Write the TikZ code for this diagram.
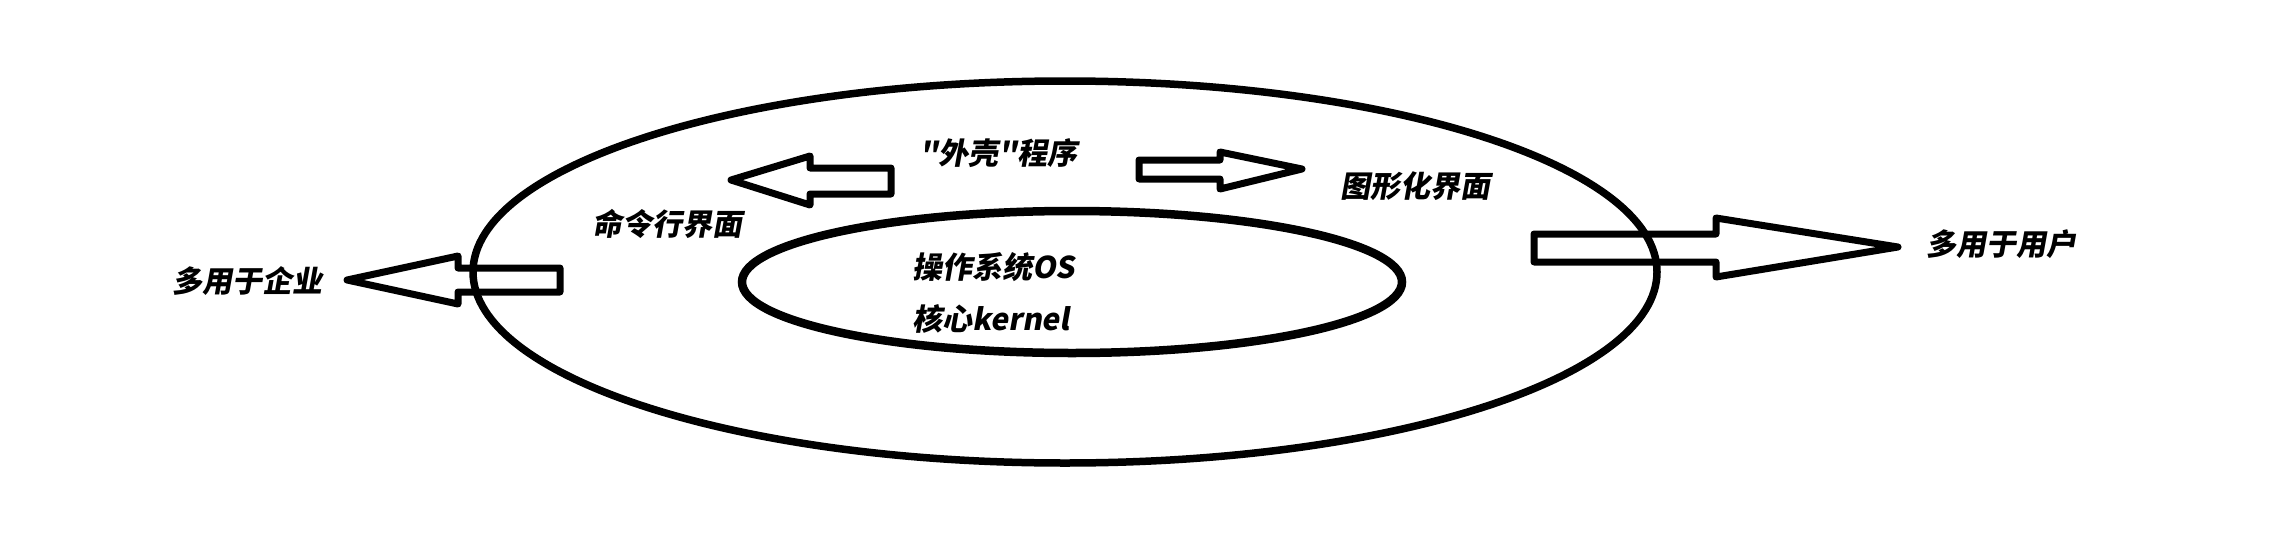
\documentclass[tikz,border=0pt]{standalone}
\usepackage{fontspec}
\newfontfamily\cjk[FakeSlant=0.18]{Noto Sans CJK SC}
\begin{document}
\begin{tikzpicture}[x=1pt,y=-1pt,
  lbl/.style={anchor=west,inner sep=0pt,font=\cjk\bfseries\fontsize{30}{33}\selectfont},
  ring/.style={draw=black,line width=7.5pt},
  fatarrow/.style={draw=black,line width=7pt,line join=round}]
\useasboundingbox[fill=white] (0,0) rectangle (2286,549);
% arrows
\draw[fatarrow] (347,280) -- (458,256) -- (458,268) -- (560,268) -- (560,292) -- (458,292) -- (458,304) -- cycle;
\draw[fatarrow] (731,180) -- (810,156) -- (810,168) -- (891,168) -- (891,194) -- (810,194) -- (810,205) -- cycle;
\draw[fatarrow] (1302,169) -- (1220,152) -- (1220,160) -- (1139,160) -- (1139,179) -- (1220,179) -- (1220,189) -- cycle;
\draw[fatarrow] (1898,247) -- (1716,218) -- (1716,234) -- (1534,234) -- (1534,262) -- (1716,262) -- (1716,277) -- cycle;
% ellipses
\draw[ring] (1065,272) ellipse [x radius=592, y radius=191];
\draw[ring,line width=8.5pt] (1072,282) ellipse [x radius=330, y radius=71];
% labels
\node[lbl] (ent) at (172,281) {多用于企业};
\node[lbl] (cli) at (592,224) {命令行界面};
\node[lbl] (shell) at (919,153) {"外壳"程序};
\node[lbl] (gui) at (1340,186) {图形化界面};
\node[lbl] (os) at (912,267) {操作系统OS};
\node[lbl] (kern) at (912,319) {核心kernel};
\node[lbl] (usr) at (1926,244) {多用于用户};
\end{tikzpicture}
\end{document}
